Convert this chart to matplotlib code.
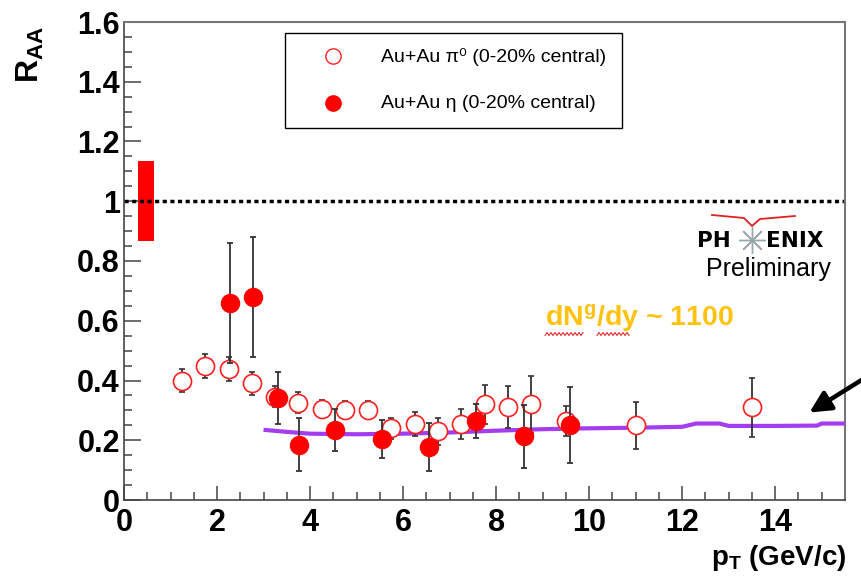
import numpy as np
import matplotlib
matplotlib.use('Agg')
import matplotlib.pyplot as plt
from matplotlib.ticker import MultipleLocator, FuncFormatter
from matplotlib.patches import Rectangle
from matplotlib.lines import Line2D

plt.rcParams['font.family'] = ['Liberation Sans', 'DejaVu Sans']
plt.rcParams['mathtext.fontset'] = 'custom'
plt.rcParams['mathtext.rm'] = 'Liberation Sans'
plt.rcParams['mathtext.bf'] = 'Liberation Sans:bold'
plt.rcParams['mathtext.it'] = 'Liberation Sans:italic'

# Au+Au pi0 (open circles)
pi0_pt = [1.25, 1.75, 2.25, 2.75, 3.25, 3.75, 4.25, 4.75, 5.25, 5.75, 6.25, 6.75,
          7.25, 7.75, 8.25, 8.75, 9.5, 11.0, 13.5]
pi0_raa = [0.40, 0.45, 0.44, 0.39, 0.345, 0.325, 0.305, 0.30, 0.30, 0.24, 0.255, 0.23,
           0.255, 0.32, 0.31, 0.32, 0.265, 0.25, 0.31]
pi0_err = [0.04, 0.04, 0.04, 0.037, 0.035, 0.035, 0.03, 0.03, 0.03, 0.035, 0.04, 0.045,
           0.05, 0.065, 0.07, 0.095, 0.05, 0.078, 0.10]

# Au+Au eta (filled circles)
eta_pt = [2.27, 2.78, 3.3, 3.77, 4.53, 5.54, 6.55, 7.56, 8.6, 9.59]
eta_raa = [0.66, 0.68, 0.34, 0.185, 0.233, 0.205, 0.177, 0.265, 0.213, 0.25]
eta_err = [0.20, 0.20, 0.087, 0.088, 0.07, 0.063, 0.08, 0.058, 0.105, 0.127]

# GLV curve, dNg/dy ~ 1100
curve_pt = [3.0, 3.5, 4.0, 5.0, 6.0, 7.0, 8.0, 9.0, 10.0, 11.0, 12.0, 12.3,
            12.8, 13.0, 14.0, 14.9, 15.0, 15.5]
curve_raa = [0.235, 0.228, 0.222, 0.220, 0.222, 0.226, 0.232, 0.237, 0.240, 0.242,
             0.245, 0.256, 0.256, 0.248, 0.248, 0.249, 0.256, 0.256]

# normalisation uncertainty box
norm_x = [0.3, 0.65]
norm_y = [0.866, 1.134]

W, H = 861, 578
fig = plt.figure(figsize=(W / 100, H / 100), dpi=100)
ax = fig.add_axes([124 / W, 1 - 500 / H, 721 / W, 478 / H])


def px(x, y):
    # figure pixel (from top-left) -> figure fraction
    return x / W, 1 - y / H


ax.set_xlim(0, 15.5)
ax.set_ylim(0, 1.6)

ax.add_patch(Rectangle((norm_x[0], norm_y[0]), norm_x[1] - norm_x[0],
                       norm_y[1] - norm_y[0], color='#ff0000', lw=0, zorder=2))
ax.axhline(1.0, color='black', lw=2.5, ls=(0, (1.2, 1.0)), zorder=2)

ax.plot(curve_pt, curve_raa, color='#a43cf0', lw=3, zorder=3, solid_capstyle='butt')

ax.errorbar(pi0_pt, pi0_raa, yerr=pi0_err, fmt='o', ms=13, mfc='white', mec='#ff2020',
            mew=1.2, ecolor='#333333', elinewidth=1.3, capsize=2, capthick=1.3, zorder=4)
ax.errorbar(eta_pt, eta_raa, yerr=eta_err, fmt='o', ms=13, mfc='#ff0000', mec='#ff0000',
            ecolor='#333333', elinewidth=1.3, capsize=2, capthick=1.3, zorder=5)

# axes style (ROOT-like)
for s in ['left', 'bottom']:
    ax.spines[s].set_color('#444444')
    ax.spines[s].set_linewidth(1.2)
for s in ['top', 'right']:
    ax.spines[s].set_color('#777777')
    ax.spines[s].set_linewidth(1.5)
ax.xaxis.set_major_locator(MultipleLocator(2))
ax.xaxis.set_minor_locator(MultipleLocator(0.5))
ax.yaxis.set_major_locator(MultipleLocator(0.2))
ax.yaxis.set_minor_locator(MultipleLocator(0.05))
ax.tick_params(which='both', direction='in', top=False, right=False, color='#444444', width=1.1)
ax.tick_params(which='major', axis='y', length=12)
ax.tick_params(which='minor', axis='y', length=6)
ax.tick_params(which='major', axis='x', length=10)
ax.tick_params(which='minor', axis='x', length=6)
ax.tick_params(axis='y', labelsize=22, pad=3)
ax.tick_params(axis='x', labelsize=22, pad=6)
ax.xaxis.set_major_formatter(FuncFormatter(lambda v, p: '%g' % v))
ax.yaxis.set_major_formatter(FuncFormatter(lambda v, p: '%g' % round(v, 2)))
for lab in ax.get_xticklabels() + ax.get_yticklabels():
    lab.set_fontweight('bold')

fig.text(*px(30, 54), r'$\mathbf{R}_{\mathbf{AA}}$', rotation=90, fontsize=23,
         ha='center', va='center')
fig.text(*px(846, 558), r'$\mathbf{p}_{\mathbf{T}}$ (GeV/c)', fontsize=20,
         fontweight='bold', ha='right', va='center')

# legend box
lx0, ly0 = px(285, 128)
lx1, ly1 = px(622, 33)
fig.patches.append(Rectangle((lx0, ly0), lx1 - lx0, ly1 - ly0, transform=fig.transFigure,
                             fc='white', ec='black', lw=1.0, zorder=10))
fig.add_artist(Line2D([px(333, 56)[0]], [px(333, 56)[1]], marker='o', ms=11, mfc='white',
                      mec='#ff2020', mew=1.0, transform=fig.transFigure, zorder=11))
fig.add_artist(Line2D([px(333, 103)[0]], [px(333, 103)[1]], marker='o', ms=11, mfc='#ff0000',
                      mec='#ff0000', transform=fig.transFigure, zorder=11))
fig.text(*px(381, 57), 'Au+Au π⁰ (0-20% central)', fontsize=14, va='center', zorder=12)
fig.text(*px(381, 104), 'Au+Au η (0-20% central)', fontsize=14, va='center', zorder=12)

# PHENIX preliminary logo
fig.text(*px(697, 241), 'PH', fontsize=15.5, fontweight='bold', va='center', ha='left',
         family='DejaVu Sans')
fig.text(*px(823, 241), 'ENIX', fontsize=15.5, fontweight='bold', va='center', ha='right',
         family='DejaVu Sans')
fig.add_artist(Line2D([px(752, 240)[0]], [px(752, 240)[1]], marker=(8, 2, 0), ms=19,
                      mec='#9aa8a8', mew=1.0, transform=fig.transFigure))
logo = [px(712, 215), px(744, 218), px(752, 226), px(760, 219), px(795, 216)]
fig.add_artist(Line2D([p[0] for p in logo], [p[1] for p in logo], color='#e02020', lw=1.3,
                      transform=fig.transFigure))
fig.text(*px(831, 269), 'Preliminary', fontsize=18, va='center', ha='right')

# dNg/dy label
fig.text(*px(545, 318), r'dN$^{\mathbf{g}}$/dy ~ 1100', fontsize=20.5, fontweight='bold',
         color='#ffc20e', va='center', ha='left')
for xa, xb in [(545, 583), (597, 630)]:
    xs = np.arange(xa, xb + 1, 2.0)
    ys = 334 + 1.5 * (-1) ** np.arange(len(xs))
    fig.add_artist(Line2D(xs / W, 1 - ys / H, color='#e03030', lw=0.8,
                          transform=fig.transFigure))

# arrow pointing to the curve
ax.annotate('', xy=(807, H - 414), xycoords='figure pixels', xytext=(868, H - 376),
            textcoords='figure pixels',
            arrowprops=dict(arrowstyle='-|>', color='black', lw=3.2, mutation_scale=32))

fig.savefig('out.png', dpi=100)
